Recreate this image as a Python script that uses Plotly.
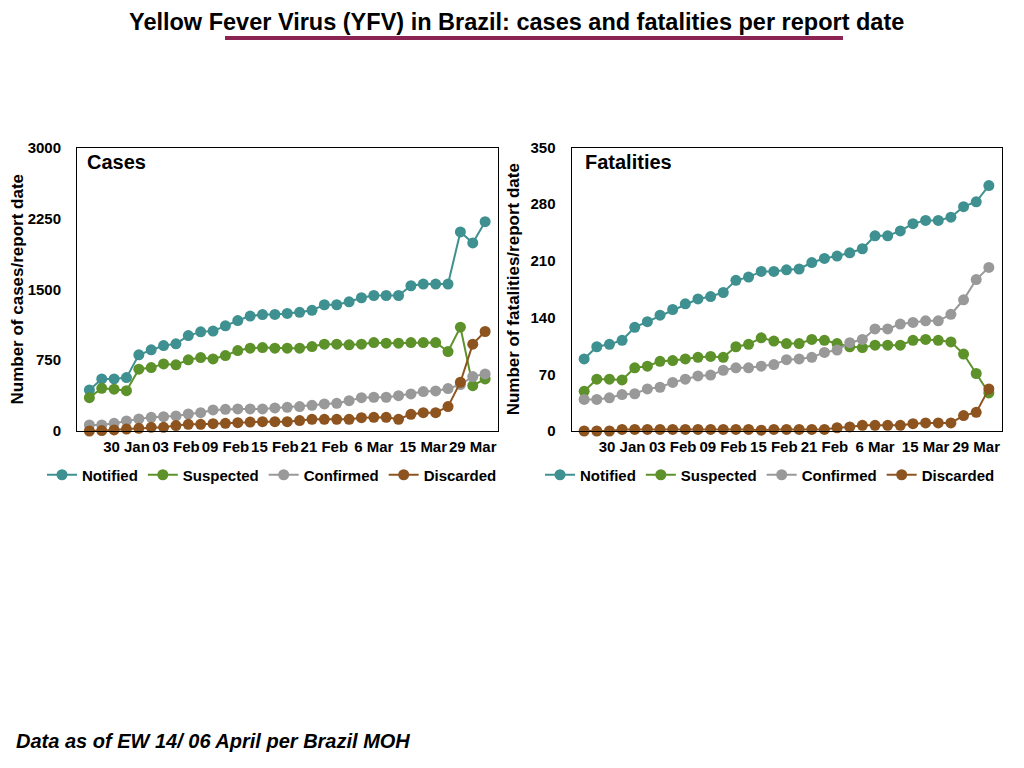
import plotly.graph_objects as go
from plotly.subplots import make_subplots

# report points (33 per panel), only every 4th one is labelled
x_idx = list(range(33))
tick_pos = [3, 7, 11, 15, 19, 23, 27, 31]
tick_text = ["30 Jan", "03 Feb", "09 Feb", "15 Feb", "21 Feb", "6 Mar", "15 Mar", "29 Mar"]

# cases
cases_notified = [435, 551, 551, 565, 806, 859, 904, 922, 1010, 1049, 1057, 1113, 1169, 1216, 1232,
                  1233, 1244, 1256, 1277, 1336, 1336, 1367, 1410, 1434, 1434, 1434, 1537, 1555, 1555,
                  1555, 2106, 1990, 2215]
cases_suspected = [353, 452, 442, 427, 654, 671, 710, 700, 753, 777, 763, 798, 851, 876, 883,
                   876, 876, 876, 894, 919, 919, 912, 919, 936, 929, 929, 936, 936, 936,
                   841, 1099, 480, 551]
cases_confirmed = [64, 64, 81, 106, 127, 145, 152, 159, 180, 194, 223, 230, 233, 233, 233,
                   244, 251, 258, 272, 286, 293, 321, 353, 357, 357, 374, 392, 417, 424,
                   449, 491, 576, 604]
cases_discarded = [0, 4, 11, 21, 28, 39, 39, 57, 71, 71, 78, 81, 88, 95, 99,
                   99, 99, 110, 124, 124, 124, 124, 141, 145, 145, 124, 177, 194, 194,
                   258, 516, 919, 1053]

# fatalities
fat_notified = [89, 104, 107, 112, 128, 135, 143, 150, 157, 163, 166, 171, 186, 190, 197,
                197, 199, 200, 208, 213, 216, 220, 225, 241, 241, 247, 256, 260, 260,
                264, 277, 283, 303]
fat_suspected = [49, 64, 64, 63, 78, 80, 86, 87, 89, 91, 92, 91, 104, 107, 115,
                 111, 108, 108, 113, 112, 108, 104, 103, 106, 106, 106, 112, 113, 112,
                 110, 95, 71, 47]
fat_confirmed = [39, 39, 41, 45, 46, 52, 54, 60, 64, 68, 69, 75, 78, 78, 80,
                 82, 88, 89, 91, 97, 100, 109, 113, 126, 126, 132, 134, 136, 136,
                 144, 162, 187, 202]
fat_discarded = [0, 0, 0, 2, 2, 2, 2, 2, 2, 2, 2, 2, 2, 2, 1,
                 2, 2, 2, 2, 2, 4, 5, 7, 7, 7, 7, 9, 10, 10,
                 10, 19, 23, 52]

names = ["Notified", "Suspected", "Confirmed", "Discarded"]
colors = ["#3f9090", "#5c9229", "#999999", "#8e5420"]

FONT = "Liberation Sans, Arial, Helvetica, sans-serif"

# page is drawn inside the 8px body margin
W, H = 1008, 752


def xp(px):  # screen px -> paper x
    return (px - 8) / W


def yp(px):  # screen px -> paper y
    return 1 - (px - 8) / H


fig = make_subplots(rows=1, cols=2)

panels = [
    (1, "legend", [cases_notified, cases_suspected, cases_confirmed, cases_discarded]),
    (2, "legend2", [fat_notified, fat_suspected, fat_confirmed, fat_discarded]),
]
for col, leg, series in panels:
    for name, color, ys in zip(names, colors, series):
        fig.add_trace(go.Scatter(x=x_idx, y=ys, name=name, mode="lines+markers",
                                 line=dict(color=color, width=2),
                                 marker=dict(color=color, size=11),
                                 legend=leg, cliponaxis=False),
                      row=1, col=col)

axis_font = dict(family=FONT, size=15, color="black", weight="bold")
title_font = dict(family=FONT, size=17, color="black", weight="bold")
for col in (1, 2):
    fig.update_xaxes(range=[-1, 33], tickmode="array", tickvals=tick_pos, ticktext=tick_text,
                     showgrid=False, zeroline=False, showline=True, mirror=True,
                     linecolor="black", linewidth=1, ticks="", tickfont=axis_font,
                     tickangle=0, ticklabelstandoff=2, automargin=False, row=1, col=col)
    fig.update_yaxes(showgrid=False, zeroline=False, showline=True, mirror=True,
                     linecolor="black", linewidth=1, ticks="", tickfont=axis_font,
                     ticklabelstandoff=12, automargin=False, row=1, col=col)

fig.update_xaxes(domain=[xp(77), xp(497.5)], row=1, col=1)
fig.update_xaxes(domain=[xp(571.5), xp(1001.5)], row=1, col=2)
fig.update_yaxes(domain=[yp(431), yp(147.5)], range=[0, 3000], tickvals=[0, 750, 1500, 2250, 3000],
                 title=dict(text="Number of cases/report date", standoff=13, font=title_font),
                 row=1, col=1)
fig.update_yaxes(domain=[yp(431), yp(147.5)], range=[0, 350], tickvals=[0, 70, 140, 210, 280, 350],
                 title=dict(text="Number of fatalities/report date", standoff=6, font=title_font),
                 row=1, col=2)

legend_style = dict(orientation="h", xanchor="center", yanchor="middle", y=yp(475),
                    font=dict(family=FONT, size=15, color="black", weight="bold"), itemwidth=30,
                    bgcolor="rgba(0,0,0,0)")
fig.update_layout(
    width=W, height=H,
    margin=dict(l=0, r=0, t=0, b=0, autoexpand=False),
    plot_bgcolor="white", paper_bgcolor="white",
    font=dict(family=FONT, color="black"),
    legend=dict(x=xp(272), **legend_style),
    legend2=dict(x=xp(770), **legend_style),
    showlegend=True,
)

# panel labels
fig.add_annotation(text="<b>Cases</b>", xref="paper", yref="paper", x=xp(85), y=yp(162),
                   xanchor="left", yanchor="middle", showarrow=False,
                   font=dict(family=FONT, size=20, color="black"))
fig.add_annotation(text="<b>Fatalities</b>", xref="paper", yref="paper", x=xp(583), y=yp(162),
                   xanchor="left", yanchor="middle", showarrow=False,
                   font=dict(family=FONT, size=20, color="black"))

# page title with underline (box kept inside the page top)
fig.add_annotation(text="<b>Yellow Fever Virus (YFV) in Brazil: cases and fatalities per report date</b>",
                   xref="paper", yref="paper", x=xp(516), y=1, xanchor="center",
                   yanchor="top", borderpad=0, showarrow=False,
                   font=dict(family=FONT, size=23.5, color="black"))
fig.add_shape(type="line", xref="paper", yref="paper", x0=xp(225), x1=xp(843),
              y0=yp(38), y1=yp(38), line=dict(color="#8b2453", width=4))

# footer note
fig.add_annotation(text="<b><i>Data as of EW 14/ 06 April per Brazil MOH</i></b>",
                   xref="paper", yref="paper", x=xp(14), y=yp(741), xanchor="left",
                   yanchor="middle", showarrow=False, font=dict(family=FONT, size=20, color="black"))

fig.write_html("out.html")
